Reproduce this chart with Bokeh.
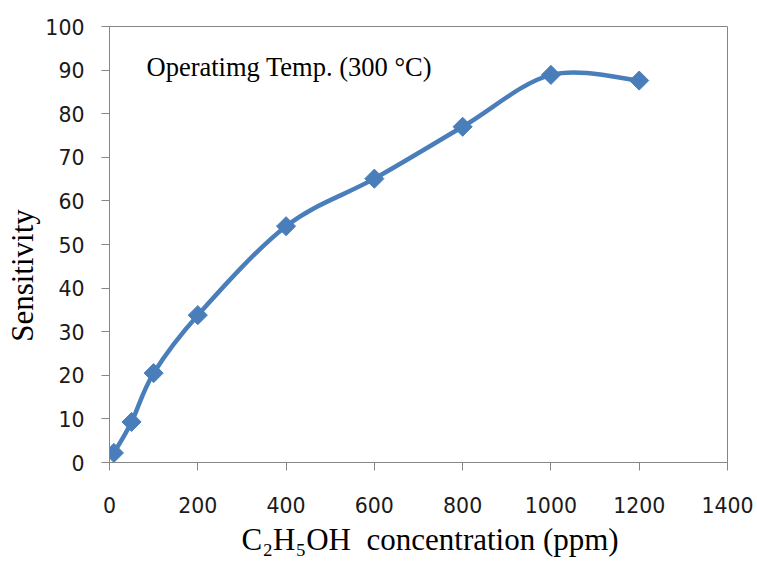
import math
from bokeh.plotting import figure
from bokeh.models import FixedTicker, Label, ColumnDataSource
from bokeh.embed import file_html
from bokeh.resources import INLINE

# Data
concentration = [10, 50, 100, 200, 400, 600, 800, 1000, 1200]
sensitivity = [2.2, 9.3, 20.5, 33.8, 54.2, 65.1, 77.0, 88.9, 87.6]
x_ticks = [0, 200, 400, 600, 800, 1000, 1200, 1400]
y_ticks = [0, 10, 20, 30, 40, 50, 60, 70, 80, 90, 100]
NBSP = "\u00a0"
x_title = NBSP * 3 + "C\u2082H\u2085OH" + NBSP * 2 + "concentration (ppm)"
y_title = "Sensitivity" + NBSP * 8
note = "Operatimg Temp. (300 \u00b0C)"

LINE = "#4a7ebb"
GRAY = "#868686"

p = figure(width=757, height=563, output_backend="svg", toolbar_location=None,
           x_range=(0, 1400), y_range=(0, 100),
           min_border_left=109, min_border_right=30, min_border_top=26, min_border_bottom=101)
p.background_fill_color = "white"
p.border_fill_color = "white"
p.outline_line_color = GRAY
p.outline_line_width = 1
p.xgrid.visible = False
p.ygrid.visible = False

for ax in (p.xaxis[0], p.yaxis[0]):
    ax.axis_line_color = GRAY
    ax.major_tick_line_color = GRAY
    ax.minor_tick_line_color = None
    ax.major_tick_in = 0
    ax.major_tick_out = 8
    ax.major_label_text_font = "DejaVu Sans"
    ax.major_label_text_font_size = "20.5px"
    ax.major_label_text_color = "#1a1a1a"
    ax.axis_label_text_font = "Liberation Serif"
    ax.axis_label_text_font_style = "normal"
    ax.axis_label_text_color = "#000000"
    ax.axis_label_text_font_size = "31px"

p.xaxis.ticker = FixedTicker(ticks=x_ticks)
p.yaxis.ticker = FixedTicker(ticks=y_ticks)
p.xaxis.major_label_standoff = 26
p.yaxis.major_label_standoff = 17
p.xaxis.axis_label = x_title
p.yaxis.axis_label = y_title
p.xaxis.axis_label_standoff = 6
p.yaxis.axis_label_standoff = 2

# Smoothed curve (Catmull-Rom -> cubic Bezier, like Excel's smoothed line)
n = len(concentration)
x0, y0, x1, y1, cx0, cy0, cx1, cy1 = [], [], [], [], [], [], [], []
for i in range(n - 1):
    pa = (concentration[max(i - 1, 0)], sensitivity[max(i - 1, 0)])
    pb = (concentration[i], sensitivity[i])
    pc = (concentration[i + 1], sensitivity[i + 1])
    pd = (concentration[min(i + 2, n - 1)], sensitivity[min(i + 2, n - 1)])
    x0.append(pb[0]); y0.append(pb[1])
    x1.append(pc[0]); y1.append(pc[1])
    cx0.append(pb[0] + (pc[0] - pa[0]) / 6.0)
    cy0.append(pb[1] + (pc[1] - pa[1]) / 6.0)
    cx1.append(pc[0] - (pd[0] - pb[0]) / 6.0)
    cy1.append(pc[1] - (pd[1] - pb[1]) / 6.0)

p.bezier(x0=x0, y0=y0, x1=x1, y1=y1, cx0=cx0, cy0=cy0, cx1=cx1, cy1=cy1,
         line_color=LINE, line_width=4.5)

src = ColumnDataSource(dict(x=concentration, y=sensitivity))
p.scatter("x", "y", source=src, marker="square", size=13.5, angle=math.pi / 4,
          fill_color=LINE, line_color=LINE, line_width=1)

# Annotation inside plot
p.add_layout(Label(x=37, y=396, x_units="screen", y_units="screen",
                   text=note, text_font="Liberation Serif", text_font_size="26.5px",
                   text_color="#000000", text_baseline="middle", text_align="left"))

open("out.html", "w").write(file_html(p, INLINE))
